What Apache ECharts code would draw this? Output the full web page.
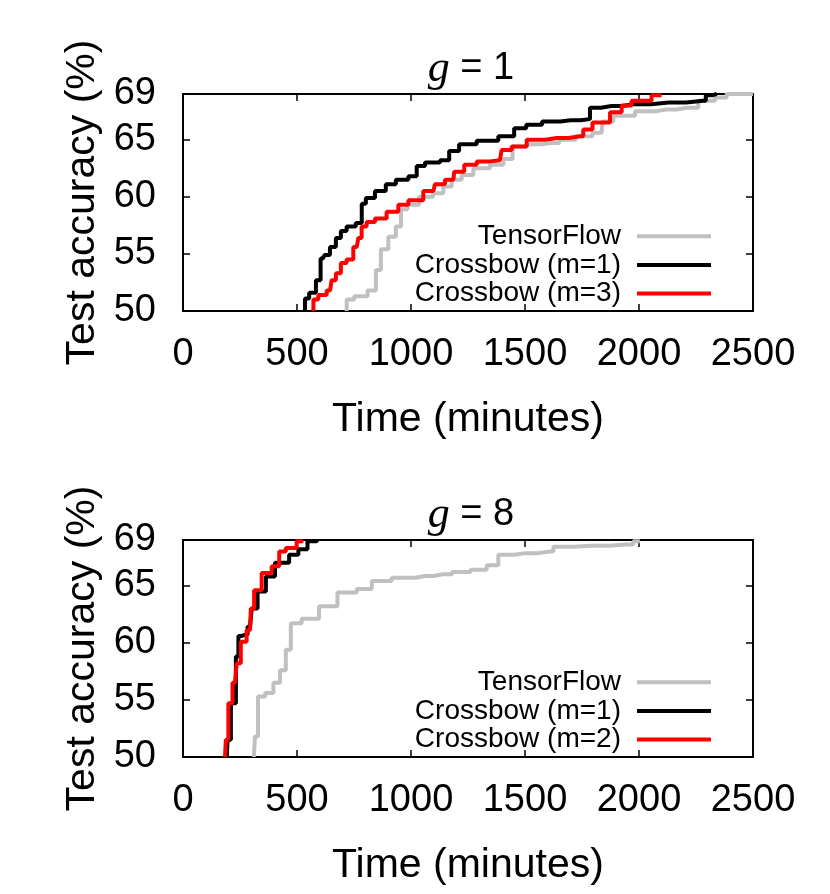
<!DOCTYPE html>
<html>
<head>
<meta charset="utf-8">
<script src="https://cdn.jsdelivr.net/npm/echarts@6/dist/echarts.min.js"></script>
<style>
  html, body { margin: 0; padding: 0; background: #fff; }
  #chart { width: 830px; height: 894px; }
</style>
</head>
<body>
<div id="chart"></div>
<script>
// [minutes, accuracy %]
var g1TensorFlow = [[718,50],[718,51.0],[784,51.3],[835,51.8],[857,53.6],[879,55.4],[922,56.5],[945,57.4],[967,58.9],[1003,59.3],[1068,60.0],[1127,60.3],[1157,60.9],[1200,61.5],[1244,61.9],[1303,62.5],[1390,62.8],[1420,63.3],[1471,64.4],[1537,64.6],[1610,64.7],[1690,65.0],[1756,65.3],[1836,65.6],[1844,66.6],[1931,67.1],[2034,67.5],[2120,67.65],[2209,67.8],[2311,68.4],[2355,68.7],[2414,69.0],[2500,69.0]];
var g1Crossbow1 = [[535,50],[535,51.1],[572,51.6],[594,52.7],[613,54.6],[630,54.9],[659,55.6],[682,56.4],[703,57.0],[732,57.4],[784,57.7],[784,59.4],[820,59.9],[864,60.5],[915,61.1],[952,61.5],[1025,61.8],[1025,62.7],[1098,63.0],[1157,63.2],[1178,64.0],[1244,64.6],[1332,64.9],[1434,65.3],[1471,66.0],[1540,66.3],[1610,66.6],[1700,66.7],[1785,66.8],[1785,67.8],[1880,67.95],[1975,68.1],[2130,68.25],[2282,68.4],[2304,68.9],[2341,69.0]];
var g1Crossbow3 = [[572,50],[572,51.0],[615,51.4],[645,51.8],[659,52.7],[682,53.3],[703,54.2],[732,54.5],[762,55.6],[776,56.4],[791,57.4],[820,57.8],[864,58.1],[922,58.7],[967,59.3],[1010,59.7],[1098,60.5],[1112,61.1],[1186,61.5],[1193,62.2],[1274,62.8],[1303,63.1],[1390,63.2],[1405,64.1],[1478,64.4],[1537,65.0],[1640,65.15],[1741,65.3],[1770,65.9],[1822,66.5],[1924,67.4],[1924,68.0],[2011,68.4],[2099,68.9]];

var g8TensorFlow = [[311,50],[320,51.8],[338,55.3],[382,55.6],[411,56.5],[440,57.6],[462,59.4],[484,61.7],[557,62.1],[637,63.2],[718,64.4],[806,64.7],[850,65.4],[981,65.7],[1060,65.85],[1140,66.0],[1220,66.2],[1303,66.4],[1361,66.8],[1405,67.7],[1500,67.85],[1610,68.0],[1639,68.4],[1790,68.5],[1946,68.6],[2004,68.9]];
var g8Crossbow1 = [[192,50],[199,51.5],[221,54.7],[243,58.8],[243,60.6],[272,60.7],[294,61.4],[309,63.0],[345,64.5],[382,65.8],[425,67.0],[506,67.7],[506,68.2],[586,68.9],[592,69.0]];
var g8Crossbow2 = [[184,50],[192,51.5],[206,54.7],[228,56.5],[243,58.2],[264,60.1],[294,61.1],[301,63.0],[323,64.6],[367,66.1],[411,66.7],[433,68.0],[469,68.3],[528,68.9]];

var xTicks = [0, 500, 1000, 1500, 2000, 2500];
var yTicks = [50, 55, 60, 65, 69];

var FONT = 'Liberation Sans';
var GREY = '#c0c0c0', BLACK = '#000000', RED = '#ff0000';

var chart = echarts.init(document.getElementById('chart'));

function mkX(grid, labels) {
    return {
        type: 'value', gridIndex: grid, position: labels ? 'bottom' : 'top',
        min: xTicks[0], max: xTicks[xTicks.length - 1], interval: 500,
        name: labels ? 'Time (minutes)' : '', nameLocation: 'middle', nameGap: 88,
        nameTextStyle: { fontFamily: FONT, fontSize: 41, color: '#000' },
        axisLine: { show: true, onZero: false, lineStyle: { color: '#000', width: 2 } },
        axisTick: { show: true, inside: true, length: 7, lineStyle: { color: '#000', width: 1.5 } },
        axisLabel: { show: labels, margin: 25, fontFamily: FONT, fontSize: 38, color: '#000',
            formatter: function (v) { return String(v); } },
        splitLine: { show: false }
    };
}
function mkY(grid, labels) {
    return {
        type: 'value', gridIndex: grid, position: labels ? 'left' : 'right',
        min: yTicks[0], max: yTicks[yTicks.length - 1], interval: 5,
        name: labels ? 'Test accuracy (%)' : '', nameLocation: 'middle', nameGap: 80, nameRotate: 90,
        nameTextStyle: { fontFamily: FONT, fontSize: 41, color: '#000' },
        axisLine: { show: true, onZero: false, lineStyle: { color: '#000', width: 2 } },
        axisTick: { show: true, inside: true, length: 7, lineStyle: { color: '#000', width: 1.5 } },
        axisLabel: { show: labels, margin: 27, fontFamily: FONT, fontSize: 38, color: '#000',
            showMinLabel: true, showMaxLabel: true,
            formatter: function (v) { return yTicks.indexOf(v) >= 0 ? String(v) : ''; } },
        splitLine: { show: false }
    };
}
function mkLine(name, data, color, xi, yi) {
    return {
        type: 'line', name: name, data: data, xAxisIndex: xi, yAxisIndex: yi,
        color: color, showSymbol: false, symbol: 'none', step: 'middle',
        lineStyle: { color: color, width: 4 }, clip: true
    };
}
function mkLegend(top, names) {
    return {
        orient: 'vertical', align: 'right', right: 119, top: top, padding: 0,
        icon: 'rect', itemWidth: 74, itemHeight: 4, itemGap: 0,
        textStyle: { fontFamily: FONT, fontSize: 28, lineHeight: 28.6, color: '#000', padding: [0, 11, 0, 0] },
        data: names, selectedMode: false
    };
}

var option = {
    animation: false,
    backgroundColor: '#fff',
    title: [
        { text: '{g|g} = 1', left: 466, top: 42, textAlign: 'center',
          textStyle: { fontFamily: FONT, fontSize: 38, fontWeight: 'normal', color: '#000',
              rich: { g: { fontFamily: 'Liberation Serif', fontStyle: 'italic', fontSize: 44, color: '#000' } } } },
        { text: '{g|g} = 8', left: 466, top: 488, textAlign: 'center',
          textStyle: { fontFamily: FONT, fontSize: 38, fontWeight: 'normal', color: '#000',
              rich: { g: { fontFamily: 'Liberation Serif', fontStyle: 'italic', fontSize: 44, color: '#000' } } } }
    ],
    grid: [
        { left: 183, top: 94, width: 570, height: 217 },
        { left: 183, top: 540, width: 570, height: 217 }
    ],
    xAxis: [mkX(0, true), mkX(0, false), mkX(1, true), mkX(1, false)],
    yAxis: [mkY(0, true), mkY(0, false), mkY(1, true), mkY(1, false)],
    legend: [
        mkLegend(222, ['TensorFlow', 'Crossbow (m=1)', 'Crossbow (m=3)']),
        mkLegend(668, ['TensorFlow', 'Crossbow (m=1)', 'Crossbow (m=2)'])
    ],
    series: [
        mkLine('TensorFlow', g1TensorFlow, GREY, 0, 0),
        mkLine('Crossbow (m=1)', g1Crossbow1, BLACK, 0, 0),
        mkLine('Crossbow (m=3)', g1Crossbow3, RED, 0, 0),
        mkLine('TensorFlow', g8TensorFlow, GREY, 2, 2),
        mkLine('Crossbow (m=1)', g8Crossbow1, BLACK, 2, 2),
        mkLine('Crossbow (m=2)', g8Crossbow2, RED, 2, 2)
    ]
};
chart.setOption(option);
</script>
</body>
</html>
